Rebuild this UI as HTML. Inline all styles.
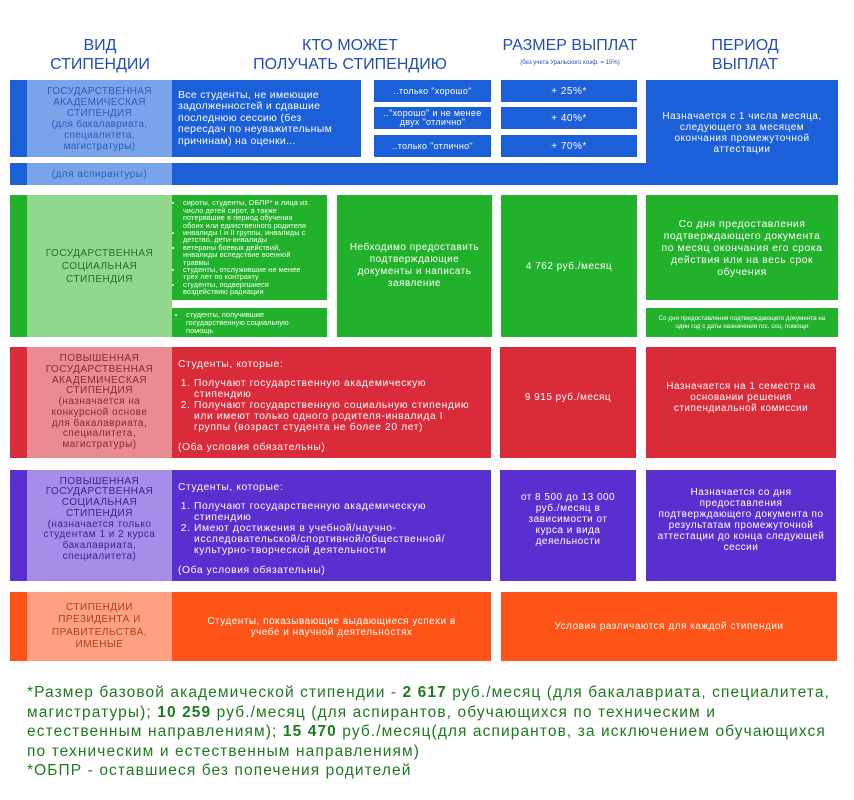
<!DOCTYPE html>
<html><head><meta charset="utf-8"><style>
body{margin:0;width:854px;height:800px;background:#fff;position:relative;overflow:hidden;font-family:"Liberation Sans",sans-serif;}
.a{position:absolute;box-sizing:border-box;display:flex;align-items:center;justify-content:center;text-align:center;color:#fff;}
.h{position:absolute;color:#1f4fb0;text-align:center;font-size:16px;line-height:19px;}
.s{font-size:10px;line-height:11px;letter-spacing:0.5px;}
.l{justify-content:flex-start;text-align:left;}
ul,ol{margin:0;padding-left:12px;}
.n{white-space:nowrap;}
</style></head><body>
<div class="h" style="left:40px;top:36px;width:120px">ВИД<br>СТИПЕНДИИ</div>
<div class="h" style="left:230px;top:36px;width:240px">КТО МОЖЕТ<br>ПОЛУЧАТЬ СТИПЕНДИЮ</div>
<div class="h" style="left:480px;top:36px;width:180px">РАЗМЕР ВЫПЛАТ</div>
<div class="h" style="left:480px;top:59px;width:180px;font-size:6px;line-height:8px">(без учета Уральского коэф. = 15%)</div>
<div class="h" style="left:680px;top:36px;width:130px">ПЕРИОД<br>ВЫПЛАТ</div>

<!-- blue -->
<div class="a" style="left:10px;top:80px;width:351px;height:77px;background:#1b5fd9"></div>
<div class="a" style="left:10px;top:163px;width:636px;height:22px;background:#1b5fd9"></div>
<div class="a s" style="left:27px;top:80px;width:145px;height:77px;background:#79a4ea;color:#2d5cb8;letter-spacing:0.3px">ГОСУДАРСТВЕННАЯ<br>АКАДЕМИЧЕСКАЯ<br>СТИПЕНДИЯ<br>(для бакалавриата,<br>специалитета,<br>магистратуры)</div>
<div class="a s" style="left:27px;top:163px;width:145px;height:22px;background:#79a4ea;color:#2d5cb8">(для аспирантуры)</div>
<div class="a s l n" style="left:172px;top:80px;width:189px;height:77px;padding:0 6px;font-size:10.5px;line-height:11.5px;letter-spacing:0.3px">Все студенты, не имеющие<br>задолженностей и сдавшие<br>последнюю сессию (без<br>пересдач по неуважительным<br>причинам) на оценки...</div>
<div class="a s" style="left:374px;top:80px;width:117px;height:22px;background:#1b5fd9;font-size:9px;letter-spacing:0.3px">..только "хорошо"</div>
<div class="a s" style="left:374px;top:107px;width:117px;height:22px;background:#1b5fd9;font-size:9px;line-height:9px;letter-spacing:0.3px">.."хорошо" и не менее<br>двух "отлично"</div>
<div class="a s" style="left:374px;top:135px;width:117px;height:22px;background:#1b5fd9;font-size:9px;letter-spacing:0.3px">..только "отлично"</div>
<div class="a s" style="left:501px;top:80px;width:136px;height:22px;background:#1b5fd9">+ 25%*</div>
<div class="a s" style="left:501px;top:107px;width:136px;height:22px;background:#1b5fd9">+ 40%*</div>
<div class="a s" style="left:501px;top:135px;width:136px;height:22px;background:#1b5fd9">+ 70%*</div>
<div class="a s" style="left:646px;top:80px;width:192px;height:105px;background:#1b5fd9;padding:0 14px">Назначается с 1 числа месяца, следующего за месяцем окончания промежуточной аттестации</div>

<!-- green -->
<div class="a" style="left:10px;top:195px;width:17px;height:142px;background:#22b12a"></div>
<div class="a s" style="left:27px;top:195px;width:145px;height:142px;background:#90d88c;color:#2a6a2a;line-height:13px">ГОСУДАРСТВЕННАЯ<br>СОЦИАЛЬНАЯ<br>СТИПЕНДИЯ</div>
<div class="a l n" style="left:172px;top:195px;width:155px;height:105px;background:#22b12a;font-size:7.3px;line-height:7.4px;padding:0 2px 0 2px;letter-spacing:0.1px">
<ul style="padding-left:9px"><li>сироты, студенты, ОБПР* и лица из<br>число детей сирот, а также<br>потерявшие в период обучения<br>обоих или единственного родителя</li><li>инвалиды I и II группы, инвалиды с<br>детство, дети-инвалиды</li><li>ветераны боевых действий,<br>инвалиды вследствие военной<br>травмы</li><li>студенты, отслужившие не менее<br>трех лет по контракту</li><li>студенты, подвергшиеся<br>воздействию радиации</li></ul></div>
<div class="a l n" style="left:172px;top:308px;width:155px;height:29px;background:#22b12a;font-size:7.4px;line-height:8px;padding:0 4px">
<ul style="padding-left:10px"><li>студенты, получившие<br>государственную социальную<br>помощь</li></ul></div>
<div class="a s" style="left:337px;top:195px;width:155px;height:142px;background:#22b12a;padding:0 8px;line-height:12px">Небходимо предоставить подтверждающие документы и написать заявление</div>
<div class="a s" style="left:501px;top:195px;width:136px;height:142px;background:#22b12a">4 762 руб./месяц</div>
<div class="a s" style="left:646px;top:195px;width:192px;height:105px;background:#22b12a;padding:0 14px;font-size:10.5px;line-height:12px">Со дня предоставления подтверждающего документа по месяц окончания его срока действия или на весь срок обучения</div>
<div class="a" style="left:646px;top:308px;width:192px;height:29px;background:#22b12a;font-size:6.3px;line-height:7.5px;padding:0 6px">Со дня предоставления подтверждающего документа на один год с даты назначения гос. соц. помощи</div>

<!-- red -->
<div class="a" style="left:10px;top:347px;width:17px;height:111px;background:#d92b3a"></div>
<div class="a s" style="left:27px;top:347px;width:145px;height:111px;background:#ea8a93;color:#8a2630;line-height:10.7px">ПОВЫШЕННАЯ<br>ГОСУДАРСТВЕННАЯ<br>АКАДЕМИЧЕСКАЯ<br>СТИПЕНДИЯ<br>(назначается на<br>конкурсной основе<br>для бакалавриата,<br>специалитета,<br>магистратуры)</div>
<div class="a s l n" style="left:172px;top:347px;width:319px;height:111px;background:#d92b3a;padding:0 6px;display:block;padding-top:12px;font-size:10.3px;letter-spacing:0.6px">Студенты, которые:<ol style="margin:8px 0 9px 0;padding-left:16px"><li>Получают государственную академическую<br>стипендию</li><li>Получают государственную социальную стипендию<br>или имеют только одного родителя-инвалида I<br>группы (возраст студента не более 20 лет)</li></ol>(Оба условия обязательны)</div>
<div class="a s" style="left:500px;top:347px;width:136px;height:111px;background:#d92b3a;padding-bottom:10px">9 915 руб./месяц</div>
<div class="a s" style="left:646px;top:347px;width:190px;height:111px;background:#d92b3a;padding:0 20px 10px">Назначается на 1 семестр на основании решения стипендиальной комиссии</div>

<!-- purple -->
<div class="a" style="left:10px;top:470px;width:17px;height:111px;background:#5930cf"></div>
<div class="a s" style="left:27px;top:470px;width:145px;height:111px;background:#a58ee8;color:#3b2290;line-height:10.7px;padding-bottom:12px">ПОВЫШЕННАЯ<br>ГОСУДАРСТВЕННАЯ<br>СОЦИАЛЬНАЯ<br>СТИПЕНДИЯ<br>(назначается только<br>студентам 1 и 2 курса<br>бакалавриата,<br>специалитета)</div>
<div class="a s l n" style="left:172px;top:470px;width:319px;height:111px;background:#5930cf;padding:0 6px;display:block;padding-top:12px;font-size:10.3px;letter-spacing:0.6px">Студенты, которые:<ol style="margin:8px 0 9px 0;padding-left:16px"><li>Получают государственную академическую<br>стипендию</li><li>Имеют достижения в учебной/научно-<br>исследовательской/спортивной/общественной/<br>культурно-творческой деятельности</li></ol>(Оба условия обязательны)</div>
<div class="a s" style="left:500px;top:470px;width:136px;height:111px;background:#5930cf;padding:0 20px 12px">от 8 500 до 13 000 руб./месяц в зависимости от курса и вида деяельности</div>
<div class="a s" style="left:646px;top:470px;width:190px;height:111px;background:#5930cf;padding:0 10px 12px">Назначается со дня предоставления подтверждающего документа по результатам промежуточной аттестации до конца следующей сессии</div>

<!-- orange -->
<div class="a" style="left:10px;top:592px;width:17px;height:69px;background:#ff5418"></div>
<div class="a s" style="left:27px;top:592px;width:145px;height:69px;background:#ffa082;color:#a8401f;line-height:12.5px">СТИПЕНДИИ<br>ПРЕЗИДЕНТА И<br>ПРАВИТЕЛЬСТВА,<br>ИМЕНЫЕ</div>
<div class="a s" style="left:172px;top:592px;width:319px;height:69px;background:#ff5418;padding:0 20px">Студенты, показывающие выдающиеся успехи в учебе и научной деятельностях</div>
<div class="a s" style="left:501px;top:592px;width:336px;height:69px;background:#ff5418">Условия различаются для каждой стипендии</div>

<div class="n" style="position:absolute;left:27px;top:683px;color:#1e7a1e;font-size:15.5px;line-height:19.6px;letter-spacing:1.1px">*Размер базовой академической стипендии - <b>2 617</b> руб./месяц (для бакалавриата, специалитета,<br>магистратуры); <b>10 259</b> руб./месяц (для аспирантов, обучающихся по техническим и<br>естественным направлениям); <b>15 470</b> руб./месяц(для аспирантов, за исключением обучающихся<br>по техническим и естественным направлениям)<br>*ОБПР - оставшиеся без попечения родителей</div>
</body></html>
